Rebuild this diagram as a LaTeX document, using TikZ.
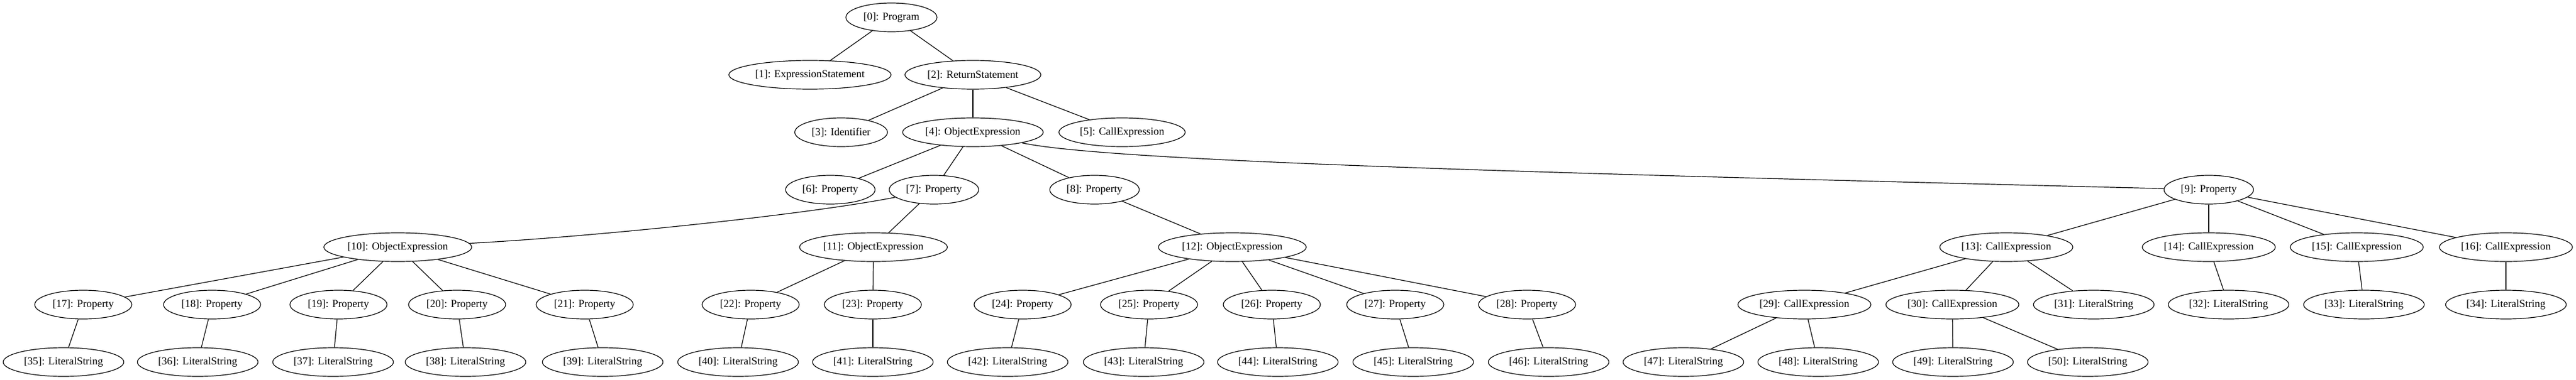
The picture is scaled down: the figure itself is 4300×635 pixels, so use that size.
\documentclass[tikz,border=0pt]{standalone}
\usepackage{fontspec}
\setmainfont{Liberation Serif}
\usetikzlibrary{shapes.geometric}
\begin{document}
\begin{tikzpicture}[x=0.75pt,y=-0.75pt,
  gv/.style={ellipse,draw,line width=0.9pt,minimum height=36pt,inner sep=0pt,
    font=\fontsize{13.4pt}{16pt}\selectfont},
  prog/.style={gv,minimum width=114pt},
  exprst/.style={gv,minimum width=203pt},
  retst/.style={gv,minimum width=170pt},
  ident/.style={gv,minimum width=116pt},
  objA/.style={gv,minimum width=176pt},
  objB/.style={gv,minimum width=185pt},
  callA/.style={gv,minimum width=158pt},
  callB/.style={gv,minimum width=166.5pt},
  propA/.style={gv,minimum width=112pt},
  propB/.style={gv,minimum width=121.5pt},
  lit/.style={gv,minimum width=151pt},
  edge/.style={line width=0.9pt}]
\useasboundingbox (0,0) rectangle (4300,635);
% level 0
\node[prog] (n0) at (1488,29) {[0]: Program};
% level 1
\node[exprst] (n1) at (1352,125) {[1]: ExpressionStatement};
\node[retst] (n2) at (1624,125) {[2]: ReturnStatement};
% level 2
\node[ident] (n3) at (1404,221) {[3]: Identifier};
\node[objA] (n4) at (1624,221) {[4]: ObjectExpression};
\node[callA] (n5) at (1873,221) {[5]: CallExpression};
% level 3
\node[propA] (n6) at (1386,317) {[6]: Property};
\node[propA] (n7) at (1559,317) {[7]: Property};
\node[propA] (n8) at (1827,317) {[8]: Property};
\node[propA] (n9) at (3687,317) {[9]: Property};
% level 4
\node[objB] (n10) at (664,413) {[10]: ObjectExpression};
\node[objB] (n11) at (1458,413) {[11]: ObjectExpression};
\node[objB] (n12) at (2057,413) {[12]: ObjectExpression};
\node[callB] (n13) at (3349,413) {[13]: CallExpression};
\node[callB] (n14) at (3687,413) {[14]: CallExpression};
\node[callB] (n15) at (3934,413) {[15]: CallExpression};
\node[callB] (n16) at (4183,413) {[16]: CallExpression};
% level 5
\node[propB] (n17) at (139,509) {[17]: Property};
\node[propB] (n18) at (354,509) {[18]: Property};
\node[propB] (n19) at (565,509) {[19]: Property};
\node[propB] (n20) at (763,509) {[20]: Property};
\node[propB] (n21) at (976,509) {[21]: Property};
\node[propB] (n22) at (1253,509) {[22]: Property};
\node[propB] (n23) at (1457,509) {[23]: Property};
\node[propB] (n24) at (1707,509) {[24]: Property};
\node[propB] (n25) at (1918,509) {[25]: Property};
\node[propB] (n26) at (2123,509) {[26]: Property};
\node[propB] (n27) at (2329,509) {[27]: Property};
\node[propB] (n28) at (2549,509) {[28]: Property};
\node[callB] (n29) at (3012,509) {[29]: CallExpression};
\node[callB] (n30) at (3259,509) {[30]: CallExpression};
\node[lit] (n31) at (3495,509) {[31]: LiteralString};
\node[lit] (n32) at (3720,509) {[32]: LiteralString};
\node[lit] (n33) at (3946,509) {[33]: LiteralString};
\node[lit] (n34) at (4183,509) {[34]: LiteralString};
% level 6
\node[lit] (n35) at (106,605) {[35]: LiteralString};
\node[lit] (n36) at (330,605) {[36]: LiteralString};
\node[lit] (n37) at (556,605) {[37]: LiteralString};
\node[lit] (n38) at (777,605) {[38]: LiteralString};
\node[lit] (n39) at (1006,605) {[39]: LiteralString};
\node[lit] (n40) at (1232,605) {[40]: LiteralString};
\node[lit] (n41) at (1457,605) {[41]: LiteralString};
\node[lit] (n42) at (1682,605) {[42]: LiteralString};
\node[lit] (n43) at (1909,605) {[43]: LiteralString};
\node[lit] (n44) at (2133,605) {[44]: LiteralString};
\node[lit] (n45) at (2359,605) {[45]: LiteralString};
\node[lit] (n46) at (2585,605) {[46]: LiteralString};
\node[lit] (n47) at (2810,605) {[47]: LiteralString};
\node[lit] (n48) at (3035,605) {[48]: LiteralString};
\node[lit] (n49) at (3260,605) {[49]: LiteralString};
\node[lit] (n50) at (3485,605) {[50]: LiteralString};
% edges
\foreach \a/\b in {0/1,0/2,2/3,2/4,2/5,4/6,4/7,4/8,7/11,8/12,
  9/13,9/14,9/15,9/16,10/17,10/18,10/19,10/20,10/21,11/22,11/23,
  12/24,12/25,12/26,12/27,12/28,13/29,13/30,13/31,14/32,15/33,16/34,
  17/35,18/36,19/37,20/38,21/39,22/40,23/41,24/42,25/43,26/44,27/45,28/46,
  29/47,29/48,30/49,30/50}
  \draw[edge] (n\a) -- (n\b);
\draw[edge] (n4) .. controls (1850,270) and (2600,290) .. (n9);
\draw[edge] (n7) .. controls (1350,358) and (1000,395) .. (n10);
\end{tikzpicture}
\end{document}
